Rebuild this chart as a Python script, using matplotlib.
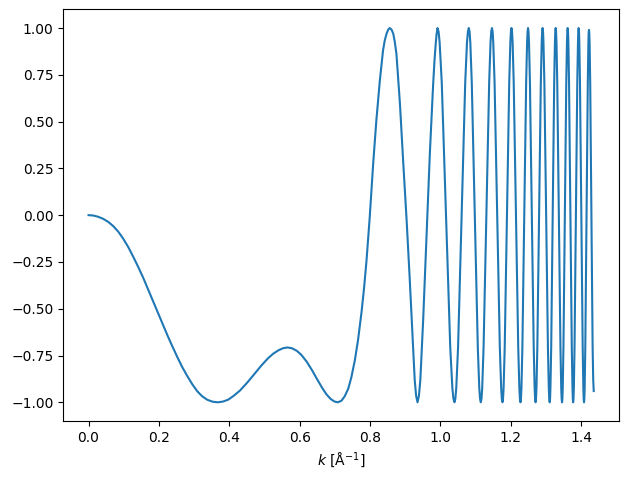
import matplotlib
matplotlib.use("Agg")
import matplotlib.pyplot as plt

# Slowly varying part of the curve
k_early = [0.000, 0.014, 0.028, 0.042, 0.056, 0.070, 0.084, 0.098, 0.113, 0.127,
           0.141, 0.155, 0.168, 0.182, 0.196, 0.210, 0.224, 0.238, 0.252, 0.266,
           0.281, 0.295, 0.309, 0.323, 0.338, 0.353, 0.368, 0.382, 0.397, 0.412,
           0.430, 0.450, 0.470, 0.490, 0.510, 0.525, 0.540, 0.553, 0.565, 0.578,
           0.592, 0.605, 0.620, 0.635, 0.650, 0.664, 0.676, 0.688, 0.699, 0.709,
           0.719, 0.728, 0.738, 0.747, 0.757, 0.766, 0.776, 0.783, 0.790, 0.799,
           0.809, 0.818, 0.828, 0.837, 0.842, 0.847, 0.852, 0.856, 0.861, 0.866,
           0.870, 0.875, 0.885, 0.894, 0.904, 0.913, 0.921, 0.927, 0.931, 0.935,
           0.939, 0.943, 0.951, 0.9605, 0.970, 0.979, 0.983, 0.986, 0.989]
y_early = [0.000, -0.002, -0.009, -0.020, -0.036, -0.058, -0.087, -0.124, -0.171, -0.222,
           -0.276, -0.333, -0.391, -0.453, -0.516, -0.579, -0.641, -0.700, -0.757, -0.811,
           -0.861, -0.904, -0.941, -0.968, -0.987, -0.997, -1.000, -0.996, -0.986, -0.966,
           -0.938, -0.897, -0.852, -0.806, -0.765, -0.740, -0.722, -0.711, -0.707, -0.711,
           -0.725, -0.747, -0.783, -0.828, -0.878, -0.923, -0.957, -0.982, -0.996, -1.000,
           -0.991, -0.968, -0.928, -0.866, -0.774, -0.666, -0.516, -0.390, -0.243, -0.015,
           0.276, 0.507, 0.721, 0.881, 0.935, 0.970, 0.992, 1.000, 0.992, 0.970,
           0.930, 0.863, 0.596, 0.294, -0.027, -0.347, -0.650, -0.881, -0.965, -1.000,
           -0.965, -0.880, -0.561, -0.116, 0.329, 0.685, 0.820, 0.899, 0.965]

# Fast oscillating part: extrema and intermediate points
k_fast = [0.9918, 0.9948, 0.9978, 1.0039, 1.0159, 1.0280, 1.0340, 1.0370,
          1.0400, 1.0425, 1.0451, 1.0502, 1.0604, 1.0705, 1.0756, 1.0782,
          1.0807, 1.0828, 1.0850, 1.0892, 1.0978, 1.1063, 1.1105, 1.1127,
          1.1148, 1.1168, 1.1188, 1.1227, 1.1307, 1.1386, 1.1425, 1.1445,
          1.1465, 1.1484, 1.1502, 1.1540, 1.1615, 1.1689, 1.1727, 1.1745,
          1.1764, 1.1780, 1.1796, 1.1828, 1.1892, 1.1956, 1.1988, 1.2004,
          1.2020, 1.2036, 1.2052, 1.2084, 1.2148, 1.2212, 1.2244, 1.2260,
          1.2276, 1.2289, 1.2303, 1.2330, 1.2384, 1.2437, 1.2464, 1.2478,
          1.2491, 1.2504, 1.2518, 1.2545, 1.2598, 1.2652, 1.2678, 1.2692,
          1.2705, 1.2717, 1.2730, 1.2755, 1.2805, 1.2854, 1.2879, 1.2892,
          1.2904, 1.2917, 1.2929, 1.2955, 1.3005, 1.3056, 1.3081, 1.3093,
          1.3106, 1.3117, 1.3127, 1.3149, 1.3191, 1.3234, 1.3255, 1.3265,
          1.3276, 1.3287, 1.3299, 1.3321, 1.3367, 1.3412, 1.3434, 1.3446,
          1.3457, 1.3467, 1.3477, 1.3497, 1.3537, 1.3577, 1.3597, 1.3607,
          1.3617, 1.3627, 1.3637, 1.3656, 1.3695, 1.3734, 1.3754, 1.3763,
          1.3773, 1.3783, 1.3793, 1.3812, 1.3851, 1.3890, 1.3910, 1.3919,
          1.3929, 1.3939, 1.3948, 1.3967, 1.4006, 1.4044, 1.4063, 1.4072,
          1.4082, 1.4091, 1.4100, 1.4118, 1.4153, 1.4189, 1.4206, 1.4215,
          1.4224, 1.4232, 1.4241, 1.4258, 1.4292, 1.4326, 1.4343, 1.4358]
y_fast = [1.000, 0.981, 0.924, 0.707, 0.000, -0.707, -0.924, -0.981,
          -1.000, -0.981, -0.924, -0.707, 0.000, 0.707, 0.924, 0.981,
          1.000, 0.981, 0.924, 0.707, 0.000, -0.707, -0.924, -0.981,
          -1.000, -0.981, -0.924, -0.707, 0.000, 0.707, 0.924, 0.981,
          1.000, 0.981, 0.924, 0.707, 0.000, -0.707, -0.924, -0.981,
          -1.000, -0.981, -0.924, -0.707, 0.000, 0.707, 0.924, 0.981,
          1.000, 0.981, 0.924, 0.707, 0.000, -0.707, -0.924, -0.981,
          -1.000, -0.981, -0.924, -0.707, 0.000, 0.707, 0.924, 0.981,
          1.000, 0.981, 0.924, 0.707, 0.000, -0.707, -0.924, -0.981,
          -1.000, -0.981, -0.924, -0.707, 0.000, 0.707, 0.924, 0.981,
          1.000, 0.981, 0.924, 0.707, 0.000, -0.707, -0.924, -0.981,
          -1.000, -0.981, -0.924, -0.707, 0.000, 0.707, 0.924, 0.981,
          1.000, 0.981, 0.924, 0.707, 0.000, -0.707, -0.924, -0.981,
          -1.000, -0.981, -0.924, -0.707, 0.000, 0.707, 0.924, 0.981,
          1.000, 0.981, 0.924, 0.707, 0.000, -0.707, -0.924, -0.981,
          -1.000, -0.981, -0.924, -0.707, 0.000, 0.707, 0.924, 0.981,
          1.000, 0.981, 0.924, 0.707, 0.000, -0.707, -0.924, -0.981,
          -1.000, -0.981, -0.924, -0.707, 0.000, 0.707, 0.924, 0.981,
          0.990, 0.970, 0.915, 0.700, 0.000, -0.700, -0.880, -0.940]

k = k_early + k_fast
y = y_early + y_fast

fig = plt.figure(figsize=(6.29, 4.8), dpi=100)
ax = fig.add_subplot(111)
fig.subplots_adjust(left=0.1006, right=0.9841, top=0.9806, bottom=0.1229)
ax.plot(k, y, color="#1f77b4", linewidth=1.5)
ax.set_xlabel(r"$k$ [Å$^{-1}$]")
fig.savefig("out.png", dpi=100)
